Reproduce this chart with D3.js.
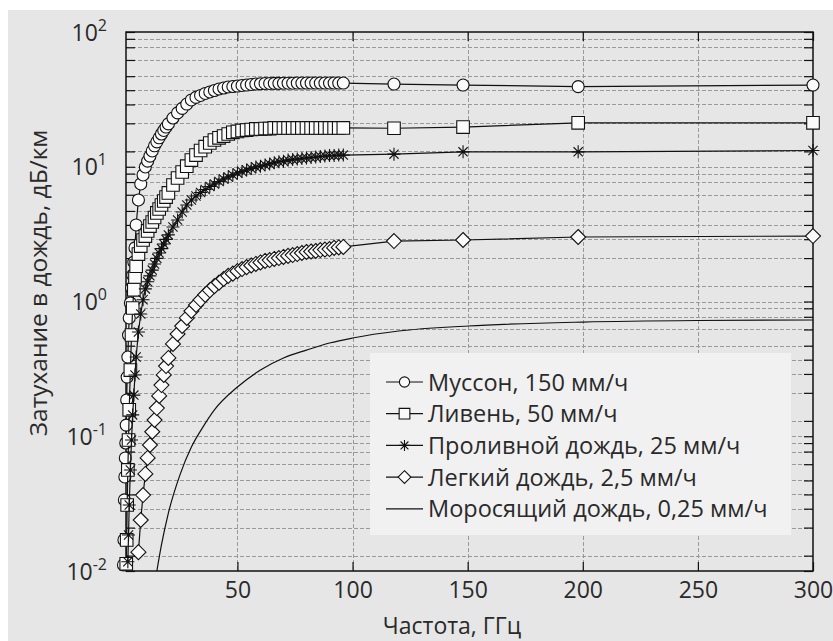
<!DOCTYPE html>
<html>
<head>
<meta charset="utf-8">
<script src="https://cdn.jsdelivr.net/npm/d3@7"></script>
<style>
  body { margin: 0; background: #fff; }
  text { font-family: "Open Sans", "Noto Sans", sans-serif; fill: #2a2a2a; }
</style>
</head>
<body>
<div id="chart"></div>
<script>
// frequency grid, GHz (shared by the four marker series)
var freq = [0.5, 0.7, 0.9, 1.1, 1.3, 1.5, 1.7, 1.9, 2.1, 2.4, 2.7, 3,
    3.5, 4, 4.5, 5, 5.5, 6,
    7, 8, 9, 10, 11, 12, 13, 14, 15, 16, 17, 18, 19, 20,
    22, 24, 26, 28, 30, 32, 34, 36, 38, 40, 42, 44, 46, 48, 50, 52, 54, 56, 58, 60,
    62, 64, 66, 68, 70, 72, 74, 76, 78, 80, 82, 84, 86, 88, 90, 92, 94, 96,
    118, 148, 198, 300];

// attenuation, dB/km (null = below the axis)
var monsoon = [0.0111, 0.0170, 0.0337, 0.0499, 0.0690, 0.0891, 0.121, 0.186, 0.275, 0.387, 0.564, 0.755,
    0.975, 1.26, 1.57, 1.96, 2.50, 3.70,
    5.67, 7.45, 8.69, 9.96, 11.0, 12.0, 13.1, 14.3, 15.3, 16.4, 17.5, 18.6, 19.7, 20.8,
    23.0, 25.1, 27.1, 29.2, 31.3, 32.7, 33.8, 35.0, 35.9, 36.8, 37.8, 38.4, 39.1, 39.4, 39.7, 40.1, 40.4, 40.8, 41.1, 41.3,
    41.5, 41.5, 41.6, 41.6, 41.7, 41.7, 41.7, 41.8, 41.8, 41.8, 41.8, 41.8, 41.8, 41.8, 41.8, 41.8, 41.8, 41.8,
    41.1, 40.4, 39.3, 40.4];

var downpour = [null, null, null, null, null, null, 0.0113, 0.0170, 0.0309, 0.0562, 0.0938, 0.157,
    0.310, 0.564, 0.895, 1.22, 1.52, 1.83,
    2.25, 2.58, 2.86, 3.06, 3.34, 3.63, 3.89, 4.20, 4.54, 4.86, 5.20, 5.57, 5.96, 6.39,
    7.32, 8.25, 9.14, 10.1, 11.2, 12.2, 13.2, 14.1, 15.0, 15.8, 16.4, 16.9, 17.5, 18.0, 18.3, 18.6, 18.7, 18.9, 19.1, 19.1,
    19.2, 19.2, 19.4, 19.4, 19.4, 19.4, 19.4, 19.4, 19.4, 19.4, 19.4, 19.4, 19.4, 19.4, 19.4, 19.4, 19.4, 19.4,
    19.3, 19.7, 21.2, 21.2];

var heavy = [null, null, null, null, null, null, null, null, null, 0.0117, 0.0185, 0.0309,
    0.0562, 0.0938, 0.144, 0.202, 0.285, 0.387,
    0.594, 0.808, 1.03, 1.24, 1.40, 1.55, 1.71, 1.90, 2.09, 2.29, 2.47, 2.67, 2.89, 3.12,
    3.57, 4.03, 4.62, 5.20, 5.67, 6.07, 6.44, 6.78, 7.14, 7.45, 7.77, 8.11, 8.39, 8.69, 8.99, 9.22, 9.46, 9.71, 9.96, 10.1,
    10.3, 10.5, 10.7, 10.9, 11.0, 11.2, 11.3, 11.4, 11.5, 11.6, 11.7, 11.8, 11.9, 12.0, 12.1, 12.1, 12.2, 12.2,
    12.4, 12.9, 12.9, 13.2];

var light = [null, null, null, null, null, null, null, null, null, null, null, null,
    null, null, null, null, null, null,
    0.0138, 0.0239, 0.0366, 0.0525, 0.0690, 0.0861, 0.108, 0.132, 0.162, 0.199, 0.240, 0.285, 0.332, 0.381,
    0.484, 0.574, 0.658, 0.755, 0.850, 0.942, 1.03, 1.12, 1.21, 1.30, 1.38, 1.47, 1.55, 1.61, 1.68, 1.74, 1.80, 1.85, 1.90, 1.95,
    2.00, 2.03, 2.07, 2.10, 2.14, 2.18, 2.21, 2.25, 2.29, 2.33, 2.35, 2.37, 2.41, 2.43, 2.45, 2.50, 2.52, 2.54,
    2.81, 2.86, 3.01, 3.06];

// drizzle is drawn as a plain line
var drizzleFreq = [15, 17, 20, 25, 30, 35, 40, 50, 60, 70, 80, 90, 100, 120, 150, 200, 250, 300];
var drizzle = [0.010, 0.0156, 0.0269, 0.0515, 0.0832, 0.117, 0.157, 0.232, 0.310, 0.381, 0.436, 0.492, 0.536, 0.604, 0.658, 0.704, 0.723, 0.729];

var legendLabels = ["Муссон, 150 мм/ч", "Ливень, 50 мм/ч", "Проливной дождь, 25 мм/ч",
    "Легкий дождь, 2,5 мм/ч", "Моросящий дождь, 0,25 мм/ч"];
var markerTypes = ["circle", "square", "star", "diamond", "none"];

var xTicks = [50, 100, 150, 200, 250, 300];
var yMajor = [0.01, 0.1, 1, 10, 100];
var yExp = ["-2", "-1", "0", "1", "2"];
// minor gridline positions inside each decade
var yMinorMult = [8.9, 7.7, 6.2, 4.7, 3.7, 2.9, 2.1, 1.3];

drawChart();

function drawChart() {
    var W = 833, H = 641;
    var left = 126, right = 813, top = 32, bottom = 571;

    var svg = d3.select("#chart").append("svg")
        .attr("width", W)
        .attr("height", H);

    // grey figure background
    svg.append("rect")
        .attr("x", 8).attr("y", 10)
        .attr("width", W - 8).attr("height", H - 10)
        .attr("fill", "#e6e6e6");

    var x = d3.scaleLinear().domain([1.6, 300]).range([left, right]);
    var y = d3.scaleLog().domain([0.01, 100]).range([bottom, top]);

    var yMinor = [];
    yMajor.slice(0, 4).forEach(function(m) {
        yMinorMult.forEach(function(k) { yMinor.push(m * k); });
    });
    var yAll = yMajor.concat(yMinor);

    // dashed grid
    var grid = svg.append("g")
        .attr("stroke", "#999")
        .attr("stroke-width", 1)
        .attr("stroke-dasharray", "4,2");
    grid.selectAll(".hg")
        .data(yAll.filter(function(v) { return v > 0.01 && v < 100; }))
        .enter().append("line")
        .attr("x1", left).attr("x2", right)
        .attr("y1", function(d) { return Math.round(y(d)) + 0.5; })
        .attr("y2", function(d) { return Math.round(y(d)) + 0.5; });
    grid.selectAll(".vg")
        .data(xTicks.slice(0, 5))
        .enter().append("line")
        .attr("y1", top).attr("y2", bottom)
        .attr("x1", function(d) { return Math.round(x(d)) + 0.5; })
        .attr("x2", function(d) { return Math.round(x(d)) + 0.5; });

    // axes, ticks pointing inward
    var gb = svg.append("g")
        .attr("transform", "translate(0," + bottom + ")")
        .call(d3.axisBottom(x).tickValues(xTicks).tickSize(-9).tickPadding(11));
    gb.selectAll("text").attr("font-size", 23).attr("fill", "#2a2a2a");

    svg.append("g")
        .attr("transform", "translate(0," + top + ")")
        .call(d3.axisTop(x).tickValues(xTicks).tickSize(-9).tickFormat(""));

    svg.append("g")
        .attr("transform", "translate(" + left + ",0)")
        .call(d3.axisLeft(y).tickValues(yAll).tickSize(-9).tickFormat(""));

    svg.append("g")
        .attr("transform", "translate(" + right + ",0)")
        .call(d3.axisRight(y).tickValues(yAll).tickSize(-9).tickFormat(""));

    svg.selectAll(".domain").remove();
    svg.selectAll(".tick line").attr("stroke", "#111").attr("stroke-width", 1.2);

    // y labels 10^n
    var lab = svg.append("g").selectAll("text")
        .data(yMajor)
        .enter().append("text")
        .attr("x", left - 19)
        .attr("y", function(d) { return y(d) + 8.5; })
        .attr("text-anchor", "end")
        .attr("font-size", 23);
    lab.append("tspan").text("10");
    lab.append("tspan")
        .attr("dy", -10)
        .attr("font-size", 16)
        .text(function(d, i) { return yExp[i]; });

    // plot frame
    svg.append("rect")
        .attr("x", left).attr("y", top)
        .attr("width", right - left).attr("height", bottom - top)
        .attr("fill", "none")
        .attr("stroke", "#111")
        .attr("stroke-width", 1.5);

    // clip for lines
    svg.append("clipPath").attr("id", "plotclip")
        .append("rect")
        .attr("x", left).attr("y", top)
        .attr("width", right - left).attr("height", bottom - top);

    var line = d3.line()
        .defined(function(d) { return d[1] != null; })
        .x(function(d) { return x(d[0]); })
        .y(function(d) { return y(d[1]); });

    var seriesList = [monsoon, downpour, heavy, light];
    var plot = svg.append("g");

    seriesList.forEach(function(vals, i) {
        var pts = freq.map(function(f, j) { return [f, vals[j]]; });
        plot.append("path")
            .datum(pts)
            .attr("clip-path", "url(#plotclip)")
            .attr("fill", "none")
            .attr("stroke", "#111")
            .attr("stroke-width", 1.2)
            .attr("d", line);

        plot.append("g").selectAll("path")
            .data(pts.filter(function(d) { return d[1] != null && d[1] >= 0.01; }))
            .enter().append("path")
            .attr("transform", function(d) { return "translate(" + x(d[0]) + "," + y(d[1]) + ")"; })
            .call(styleMarker, markerTypes[i]);
    });

    plot.append("path")
        .datum(drizzleFreq.map(function(f, j) { return [f, drizzle[j]]; }))
        .attr("clip-path", "url(#plotclip)")
        .attr("fill", "none")
        .attr("stroke", "#111")
        .attr("stroke-width", 1.2)
        .attr("d", line.curve(d3.curveMonotoneX));

    // legend
    var lg = svg.append("g").attr("transform", "translate(370,353)");
    lg.append("rect")
        .attr("width", 421).attr("height", 182)
        .attr("fill", "#f1f1f1");
    var items = lg.selectAll(".item")
        .data(legendLabels)
        .enter().append("g")
        .attr("transform", function(d, i) { return "translate(0," + (29 + i * 31.7) + ")"; });
    items.append("line")
        .attr("x1", 16).attr("x2", 53)
        .attr("stroke", "#111").attr("stroke-width", 1.2);
    items.append("path")
        .attr("transform", "translate(34.5,0)")
        .each(function(d, i) { d3.select(this).call(styleMarker, markerTypes[i], 0.85); });
    items.append("text")
        .attr("x", 58)
        .attr("y", 8.5)
        .attr("font-size", 23.5)
        .text(function(d) { return d; });

    // axis titles
    svg.append("text")
        .attr("x", 452).attr("y", 634)
        .attr("text-anchor", "middle")
        .attr("font-size", 23)
        .text("Частота, ГГц");

    svg.append("text")
        .attr("transform", "translate(47,283)rotate(-90)")
        .attr("text-anchor", "middle")
        .attr("font-size", 24.5)
        .text("Затухание в дождь, дБ/км");
}

function styleMarker(sel, type, k) {
    k = k || 1;
    var p;
    if (type == "circle") {
        var r = 6 * k;
        p = "M" + r + ",0A" + r + "," + r + " 0 1,1 " + (-r) + ",0A" + r + "," + r + " 0 1,1 " + r + ",0Z";
    } else if (type == "square") {
        var s = 6.3 * k;
        p = "M" + (-s) + "," + (-s) + "H" + s + "V" + s + "H" + (-s) + "Z";
    } else if (type == "diamond") {
        var dd = 7.5 * k;
        p = "M0," + (-dd) + "L" + dd + ",0L0," + dd + "L" + (-dd) + ",0Z";
    } else if (type == "star") {
        var a = 6.5 * k, b = 4.6 * k;
        p = "M" + (-a) + ",0H" + a + "M0," + (-a) + "V" + a +
            "M" + (-b) + "," + (-b) + "L" + b + "," + b + "M" + (-b) + "," + b + "L" + b + "," + (-b);
    } else {
        p = "";
    }
    sel.attr("d", p)
        .attr("fill", type == "star" ? "none" : "#fafafa")
        .attr("stroke", "#111")
        .attr("stroke-width", 1.1);
}
</script>
</body>
</html>
